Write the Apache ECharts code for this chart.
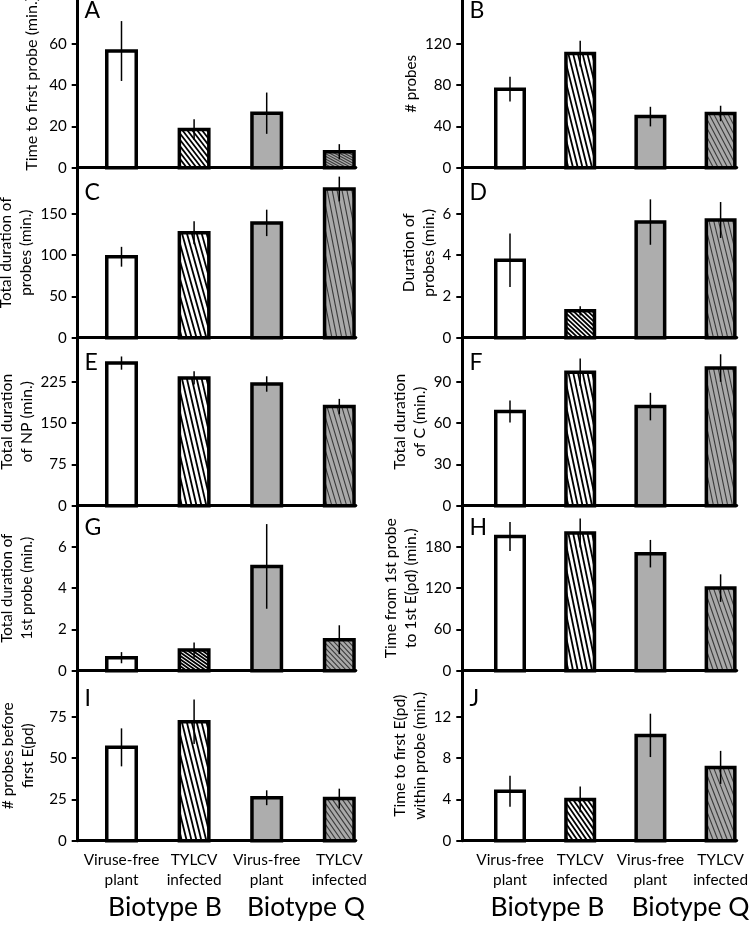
<!DOCTYPE html>
<html><head><meta charset="utf-8">
<script src="https://cdn.jsdelivr.net/npm/echarts@6/dist/echarts.min.js"></script>
<style>html,body{margin:0;padding:0;background:#fff;}#main{width:750px;height:931px;}</style>
</head><body><div id="main"></div>
<script>
// ---------------- data ----------------
const categoriesLeft = ['Viruse-free\nplant', 'TYLCV\ninfected', 'Virus-free\nplant', 'TYLCV\ninfected'];
const categoriesRight = ['Virus-free\nplant', 'TYLCV\ninfected', 'Virus-free\nplant', 'TYLCV\ninfected'];
const biotypes = ['Biotype B', 'Biotype Q'];
const panelLetters = ['A', 'B', 'C', 'D', 'E', 'F', 'G', 'H', 'I', 'J'];
const yNames = [
  'Time to first probe (min.)',
  '# probes',
  'Total duration of\nprobes (min.)',
  'Duration of\nprobes (min.)',
  'Total duration\nof NP (min.)',
  'Total duration\nof C (min.)',
  'Total duration of\n1st probe (min.)',
  'Time from 1st probe\nto 1st E(pd) (min.)',
  '# probes before\nfirst E(pd)',
  'Time to first E(pd)\nwithin probe (min.)'
];
const meansA = [56.5, 18.5, 26.4, 7.7];   const errA = [14.5, 5, 10, 3.7];   const ticksA = [0, 20, 40, 60];   const topA = 80;
const meansB = [76, 110.5, 49.5, 52.5];   const errB = [12, 12.5, 9.5, 7.5]; const ticksB = [0, 40, 80, 120];  const topB = 160;
const meansC = [98, 127, 139, 180];       const errC = [12, 14, 16, 15];     const ticksC = [0, 50, 100, 150]; const topC = 200;
const meansD = [3.75, 1.3, 5.6, 5.7];     const errD = [1.3, 0.22, 1.1, 0.87]; const ticksD = [0, 2, 4, 6];    const topD = 8;
const meansE = [259, 232, 221, 180];      const errE = [12, 12, 14, 14];     const ticksE = [0, 75, 150, 225]; const topE = 300;
const meansF = [68.5, 97, 72, 100];       const errF = [8, 10, 10, 10];      const ticksF = [0, 30, 60, 90];   const topF = 120;
const meansG = [0.63, 1.0, 5.05, 1.5];    const errG = [0.27, 0.37, 2.05, 0.7]; const ticksG = [0, 2, 4, 6];   const topG = 8;
const meansH = [195, 200, 170, 120];      const errH = [21, 21, 20, 20];     const ticksH = [0, 60, 120, 180]; const topH = 240;
const meansI = [56.5, 72, 26, 25.5];      const errI = [11.5, 13.5, 4.5, 6]; const ticksI = [0, 25, 50, 75];   const topI = 100;
const meansJ = [4.8, 4.0, 10.2, 7.1];     const errJ = [1.5, 1.25, 2.1, 1.6]; const ticksJ = [0, 4, 8, 12];    const topJ = 16;

const panels = [
  [meansA, errA, ticksA, topA], [meansB, errB, ticksB, topB],
  [meansC, errC, ticksC, topC], [meansD, errD, ticksD, topD],
  [meansE, errE, ticksE, topE], [meansF, errF, ticksF, topF],
  [meansG, errG, ticksG, topG], [meansH, errH, ticksH, topH],
  [meansI, errI, ticksI, topI], [meansJ, errJ, ticksJ, topJ]
];

// ---------------- layout / style ----------------
const FONT = 'Lato';
const meas = document.createElement('canvas').getContext('2d');
function fit(text, px) { meas.font = '100px ' + FONT; return 100 * px / meas.measureText(text).width; }

const cols = [
  { axis: 77.7, end: 355.8, first: 121.5, step: 72.6, letterX: 84.5 },
  { axis: 462.3, end: 736.7, first: 510, step: 70.2, letterX: 469.5 }
];
const rowBase = [167.7, 337.7, 505.7, 670.7, 840.7];
const letterTop = [-1, 181, 351, 516, 687];
const tickPx = 41.3;
const nameFit = [
  ['Time to first probe (min.)', 174], ['# probes', 58], ['Total duration of', 111], ['probes (min.)', 88],
  ['Total duration', 96], ['Total duration', 96], ['Total duration of', 109], ['Time from 1st probe', 140],
  ['# probes before', 107], ['within probe (min.)', 128]
];
const nameGaps = [36, 39, 40, 21, 40, 31, 41, 36, 40, 29];
const tickSize = fit('000', 26.3);
const catSize = fit('infected', 55);
const bioSize = fit('Biotype B', 114);
const barFill = ['#ffffff', '#ffffff', '#adadad', '#a9a9a9'];
const hatch = [null, { n: 6, color: '#000000', width: 1.8 }, null, { n: 6, color: '#3a3a3a', width: 1.1 }];
const barUnits = 0.406;
const borderW = 3.5;

function renderBar(params, api) {
  const xv = api.value(0), mean = api.value(1), err = api.value(2);
  const k = params.dataIndex;
  const base = api.coord([xv, 0]);
  const top = api.coord([xv, mean]);
  const w = api.size([barUnits, 0])[0];
  const x0 = base[0] - w / 2, y0 = top[1], h = base[1] - top[1];
  const children = [{ type: 'rect', shape: { x: x0, y: y0, width: w, height: h }, style: { fill: barFill[k], stroke: null } }];
  const ht = hatch[k];
  if (ht) {
    for (let j = -ht.n; j < ht.n; j++) {
      const c = (j + 0.5) / ht.n;
      let u1, v1, u2, v2;
      if (c >= 0) { u1 = c; v1 = 0; u2 = 1; v2 = 1 - c; } else { u1 = 0; v1 = -c; u2 = 1 + c; v2 = 1; }
      children.push({ type: 'line', shape: { x1: x0 + u1 * w, y1: y0 + v1 * h, x2: x0 + u2 * w, y2: y0 + v2 * h },
        style: { stroke: ht.color, lineWidth: ht.width, fill: null } });
    }
  }
  children.push({ type: 'rect', shape: { x: x0, y: y0, width: w, height: h }, style: { fill: 'none', stroke: '#000', lineWidth: borderW } });
  const hi = api.coord([xv, mean + err]), lo = api.coord([xv, mean - err]);
  children.push({ type: 'line', shape: { x1: hi[0], y1: hi[1], x2: lo[0], y2: lo[1] }, style: { stroke: '#000', lineWidth: 1.5, fill: null } });
  return { type: 'group', children };
}

const grid = [], xAxis = [], yAxis = [], series = [], title = [];
panels.forEach((p, i) => {
  const [means, errs, ticks, axisTop] = p;
  const col = cols[i % 2], row = Math.floor(i / 2);
  const gTop = row === 0 ? 0 : rowBase[row - 1];
  const gH = rowBase[row] - gTop;
  const yMax = axisTop * gH / (4 * tickPx);
  const xMin = 1 - (col.first - col.axis) / col.step;
  const xMax = 4 + (col.end - col.first - 3 * col.step) / col.step;
  grid.push({ left: col.axis, top: gTop, width: col.end - col.axis, height: gH, containLabel: false, outerBoundsMode: 'none' });
  const bottomRow = row === 4;
  const cats = i % 2 === 0 ? categoriesLeft : categoriesRight;
  xAxis.push({
    type: 'value', gridIndex: i, min: xMin, max: xMax,
    axisLine: { show: true, onZero: false, lineStyle: { color: '#000', width: 3 } },
    axisTick: { show: false }, splitLine: { show: false },
    axisLabel: bottomRow ? {
      show: true, customValues: [1, 2, 3, 4], formatter: v => cats[Math.round(v) - 1],
      margin: 9, lineHeight: 20, fontSize: catSize, fontFamily: FONT, color: '#000'
    } : { show: false }
  });
  const nf = nameFit[i];
  yAxis.push({
    type: 'value', gridIndex: i, min: 0, max: yMax,
    axisLine: { show: true, onZero: false, lineStyle: { color: '#000', width: 3 } },
    axisTick: { show: true, length: 6, customValues: ticks, lineStyle: { color: '#000', width: 2 } },
    axisLabel: { show: true, customValues: ticks, margin: 11, fontSize: tickSize, fontFamily: FONT, color: '#000' },
    splitLine: { show: false },
    name: yNames[i], nameLocation: 'middle', nameRotate: 90, nameGap: nameGaps[i],
    nameTextStyle: { fontSize: fit(nf[0], nf[1]), lineHeight: 20, fontFamily: FONT, color: '#000' }
  });
  series.push({
    type: 'custom', xAxisIndex: i, yAxisIndex: i, renderItem: renderBar, clip: false,
    data: means.map((m, k) => [k + 1, m, errs[k]])
  });
  title.push({
    text: panelLetters[i], left: col.letterX, top: letterTop[row], padding: 0,
    textStyle: { fontSize: 23, lineHeight: 23, fontWeight: 'normal', fontFamily: FONT, color: '#000' }
  });
});

const bioPos = [[165, 907], [306, 907], [547.5, 907], [690.5, 907]];
const graphic = bioPos.map((pos, k) => ({
  type: 'text', x: pos[0], y: pos[1],
  style: { text: biotypes[k % 2], textAlign: 'center', textVerticalAlign: 'middle', fontSize: bioSize, fontFamily: FONT, fill: '#000' }
}));

const chart = echarts.init(document.getElementById('main'), null, { renderer: 'canvas' });
chart.setOption({ animation: false, backgroundColor: '#fff', title, grid, xAxis, yAxis, series, graphic });
</script></body></html>
